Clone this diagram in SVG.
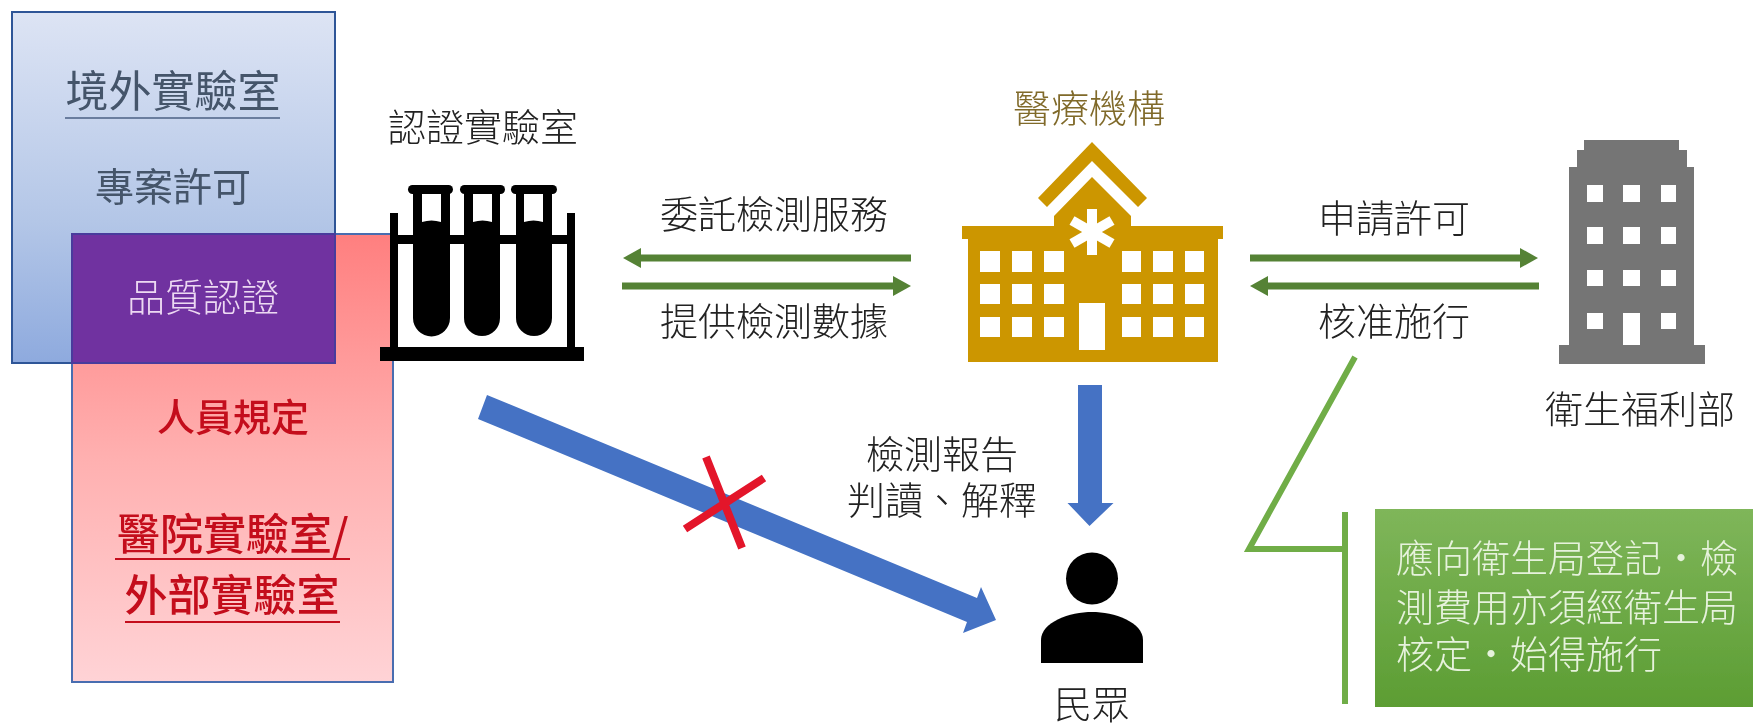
<svg xmlns="http://www.w3.org/2000/svg" width="1753" height="726" viewBox="0 0 1753 726">
<style>
text{font-family:"Noto Sans CJK TC","Noto Sans CJK SC",sans-serif;font-size:38px;font-weight:300;fill:#222;text-anchor:middle}
.bold{font-weight:500;fill:#c4101c}
.slate{fill:#44546a;font-weight:400}
.white{fill:#e6f2dc;text-anchor:start}
.gline{stroke:#548235;stroke-width:7;fill:none}
.callout{stroke:#70ad47;stroke-width:6;fill:none}
</style>
<defs>
<filter id="soft" filterUnits="userSpaceOnUse" x="0" y="0" width="1753" height="726"><feGaussianBlur stdDeviation="0.6"/></filter>
<linearGradient id="gb" x1="0" y1="0" x2="0" y2="1"><stop offset="0" stop-color="#dde4f4"/><stop offset=".6" stop-color="#b3c6e7"/><stop offset="1" stop-color="#8eaade"/></linearGradient>
<linearGradient id="gr" x1="0" y1="0" x2="0" y2="1"><stop offset="0" stop-color="#ff7f7f"/><stop offset=".5" stop-color="#ffb0b0"/><stop offset="1" stop-color="#ffd3d6"/></linearGradient>
<linearGradient id="gg" x1="0" y1="0" x2="0" y2="1"><stop offset="0" stop-color="#7fb65a"/><stop offset="1" stop-color="#5c9d33"/></linearGradient>
<marker id="ah" viewBox="0 0 18 20" refX="0" refY="10" markerUnits="userSpaceOnUse" markerWidth="18" markerHeight="20" orient="auto"><path d="M0 0L18 10L0 20Z" fill="#548235"/></marker>
</defs>
<g filter="url(#soft)">
<rect width="1753" height="726" fill="#fff"/>
<g id="overseas-lab">
<rect x="12" y="12" width="323" height="351" fill="url(#gb)" stroke="#2f5597" stroke-width="2"/>
</g>
<g id="hospital-lab">
<rect x="72" y="234" width="321" height="448" fill="url(#gr)" stroke="#4a6db0" stroke-width="2"/>
<text class="bold" x="233" y="431">人員規定</text>
<text class="bold" x="117" y="550" style="font-size:43px;text-anchor:start">醫院實驗室/</text>
<line x1="115" y1="559" x2="350" y2="559" stroke="#c4101c" stroke-width="2"/>
<text class="bold" x="232" y="611" style="font-size:43px">外部實驗室</text>
<line x1="125" y1="622" x2="340" y2="622" stroke="#c4101c" stroke-width="2"/>
</g>
<g id="overseas-lab-text">
<text class="slate" x="173" y="107" style="font-size:43px">境外實驗室</text>
<line x1="65" y1="118" x2="280" y2="118" stroke="#6a7d9e" stroke-width="2"/>
<text class="slate" x="173" y="201" style="font-size:39px">專案許可</text>
</g>
<g id="quality-cert">
<rect x="72" y="234" width="263" height="129" fill="#7030a0" stroke="#4a3a9c" stroke-width="2"/>
<text x="203" y="311" style="fill:#ecd9f2">品質認證</text>
</g>
<g id="certified-lab">
<text x="483" y="141">認證實驗室</text>
<g fill="#000">
<rect x="380" y="347" width="204" height="14"/>
<rect x="390" y="213" width="8" height="140"/>
<rect x="567" y="213" width="8" height="140"/>
<rect x="394" y="235" width="177" height="9"/>
</g>
<g id="tubes" fill="#000">
<path d="M413 190H450V318A18.500 18.500 0 0 1 413 318Z"/><rect x="408" y="185" width="45" height="9" rx="4.500"/>
<path d="M464 190H500V318A18 18 0 0 1 464 318Z"/><rect x="460" y="185" width="45" height="9" rx="4.500"/>
<path d="M516 190H552V318A18 18 0 0 1 516 318Z"/><rect x="511" y="185" width="46" height="9" rx="4.500"/>
</g>
<g fill="#fff">
<path d="M422 194H441V222Q431.500 219 422 222Z"/>
<path d="M473 194H492V222Q482.500 219 473 222Z"/>
<path d="M524 194H543V222Q533.500 219 524 222Z"/>
</g>
</g>
<g id="medical-institution">
<text x="1089" y="122" style="fill:#806a2a">醫療機構</text>
<path fill="#cc9600" fill-rule="evenodd" d="M1092 142L1147 198L1138 207L1092 161L1047 207L1038 198Z"/>
<path fill="#cc9600" d="M1092 177L1131 216V226H1223V239H1218V362H968V239H962V226H1054V216Z"/>
<g fill="#fff">
<rect x="980" y="251" width="20" height="21"/><rect x="1012" y="251" width="20" height="21"/><rect x="1044" y="251" width="20" height="21"/><rect x="1122" y="251" width="19" height="21"/><rect x="1153" y="251" width="20" height="21"/><rect x="1185" y="251" width="19" height="21"/>
<rect x="980" y="284" width="20" height="20"/><rect x="1012" y="284" width="20" height="20"/><rect x="1044" y="284" width="20" height="20"/><rect x="1122" y="284" width="19" height="20"/><rect x="1153" y="284" width="20" height="20"/><rect x="1185" y="284" width="19" height="20"/>
<rect x="980" y="317" width="20" height="20"/><rect x="1012" y="317" width="20" height="20"/><rect x="1044" y="317" width="20" height="20"/><rect x="1122" y="317" width="19" height="20"/><rect x="1153" y="317" width="20" height="20"/><rect x="1185" y="317" width="19" height="20"/>
<rect x="1079" y="303" width="26" height="47"/>
</g>
<g stroke="#fff" stroke-width="10"><line x1="1092" y1="209" x2="1092" y2="255"/><line x1="1072" y1="220.500" x2="1112" y2="243.500"/><line x1="1072" y1="243.500" x2="1112" y2="220.500"/></g>
</g>
<g id="mohw">
<path fill="#747474" d="M1584 140H1679V150H1687V167H1694V345H1705V364H1559V345H1569V167H1577V150H1584Z"/>
<g fill="#fff">
<rect x="1587" y="185" width="16" height="17"/><rect x="1623" y="185" width="17" height="17"/><rect x="1661" y="185" width="15" height="17"/>
<rect x="1587" y="227" width="16" height="17"/><rect x="1623" y="227" width="17" height="17"/><rect x="1661" y="227" width="15" height="17"/>
<rect x="1587" y="270" width="16" height="16"/><rect x="1623" y="270" width="17" height="16"/><rect x="1661" y="270" width="15" height="16"/>
<rect x="1587" y="313" width="16" height="16"/><rect x="1623" y="313" width="17" height="32"/><rect x="1661" y="313" width="15" height="16"/>
</g>
<text x="1640" y="423">衛生福利部</text>
</g>
<g id="public">
<ellipse cx="1092" cy="578.500" rx="26" ry="26" fill="#000"/>
<path fill="#000" d="M1041 663V640C1041 622 1070 612 1092 612C1114 612 1143 622 1143 640V663Z"/>
<text x="1092" y="718">民眾</text>
</g>
<g id="note">
<rect x="1375" y="509" width="378" height="198" fill="url(#gg)"/>
<text class="white" x="1396" y="572">應向衛生局登記・檢</text>
<text class="white" x="1396" y="621">測費用亦須經衛生局</text>
<text class="white" x="1396" y="668">核定・始得施行</text>
</g>
<g id="connectors">
<line class="gline" x1="911" y1="258" x2="641" y2="258" marker-end="url(#ah)"/>
<line class="gline" x1="622" y1="286" x2="893" y2="286" marker-end="url(#ah)"/>
<line class="gline" x1="1250" y1="258" x2="1520" y2="258" marker-end="url(#ah)"/>
<line class="gline" x1="1539" y1="286" x2="1268" y2="286" marker-end="url(#ah)"/>
<path fill="#4472c4" d="M1078 385H1102V503H1113.500L1089.500 526L1067.500 503H1078Z"/>
<path fill="#4472c4" d="M487 395L478 419L967 622L963 633L996 620L981 587L977 598Z"/>
<path stroke="#e3142c" stroke-width="8" fill="none" d="M706 457L742 548M764 478L685 529"/>
<path class="callout" d="M1355 357L1249 549H1345"/>
<line class="callout" x1="1345" y1="512" x2="1345" y2="704"/>
</g>
<g id="edge-labels">
<text x="774" y="228">委託檢測服務</text>
<text x="774" y="335">提供檢測數據</text>
<text x="1394" y="232">申請許可</text>
<text x="1394" y="335">核准施行</text>
<text x="942" y="468">檢測報告</text>
<text x="942" y="514">判讀、解釋</text>
</g>
</g>
</svg>
